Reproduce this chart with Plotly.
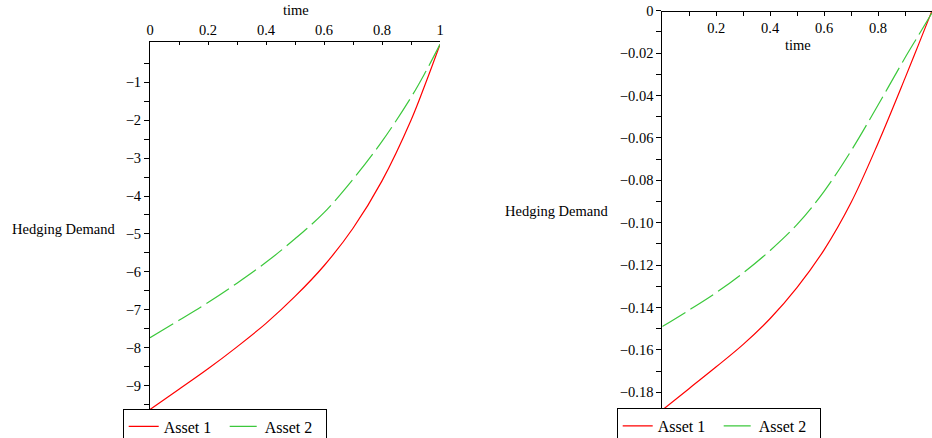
import plotly.graph_objects as go

# ---- data ----
time = [0.0, 0.1, 0.2, 0.3, 0.4, 0.5, 0.6, 0.7, 0.8, 0.9, 0.95, 1.0]

left_asset1 = [-9.63, -9.10, -8.56, -7.98, -7.36, -6.65, -5.84, -4.85, -3.60, -2.00, -1.03, 0.0]
left_asset2 = [-7.74, -7.28, -6.81, -6.30, -5.75, -5.13, -4.44, -3.56, -2.56, -1.40, -0.73, 0.0]

right_asset1 = [-0.1884, -0.1782, -0.1680, -0.1574, -0.1452, -0.1305, -0.1128, -0.0905,
                -0.0625, -0.0318, -0.0160, 0.0]
right_asset2 = [-0.149, -0.1412, -0.1330, -0.1237, -0.1131, -0.1008, -0.0852, -0.0661,
                -0.0445, -0.0222, -0.0116, -0.001]

series_names = ["Asset 1", "Asset 2"]

x_tick_vals_left = [0, 0.2, 0.4, 0.6, 0.8, 1.0]
x_tick_text_left = ["0", "0.2", "0.4", "0.6", "0.8", "1"]
x_tick_vals_right = [0.2, 0.4, 0.6, 0.8]
x_tick_text_right = ["0.2", "0.4", "0.6", "0.8"]
x_minor = [0.1, 0.3, 0.5, 0.7, 0.9]

y_tick_vals_left = [-1, -2, -3, -4, -5, -6, -7, -8, -9]
y_tick_text_left = ["\u22121", "\u22122", "\u22123", "\u22124", "\u22125",
                    "\u22126", "\u22127", "\u22128", "\u22129"]
y_minor_left = [-0.5, -1.5, -2.5, -3.5, -4.5, -5.5, -6.5, -7.5, -8.5, -9.5]

y_tick_vals_right = [0, -0.02, -0.04, -0.06, -0.08, -0.10, -0.12, -0.14, -0.16, -0.18]
y_tick_text_right = ["0", "\u22120.02", "\u22120.04", "\u22120.06", "\u22120.08",
                     "\u22120.10", "\u22120.12", "\u22120.14", "\u22120.16", "\u22120.18"]
y_minor_right = [-0.01, -0.03, -0.05, -0.07, -0.09, -0.11, -0.13, -0.15, -0.17]

# ---- styling ----
W, H = 932, 438
RED = "#ff0000"
GREEN = "#3cc83c"
DASH = "27px,6px"
FONT = "Liberation Serif"

def px_x(p):
    return p / W

def px_y(p):
    return 1 - p / H

fig = go.Figure()

fig.add_trace(go.Scatter(x=time, y=left_asset1, name=series_names[0], mode="lines",
                         line=dict(color=RED, width=1.2, shape="spline"),
                         xaxis="x", yaxis="y", legend="legend"))
fig.add_trace(go.Scatter(x=time, y=left_asset2, name=series_names[1], mode="lines",
                         line=dict(color=GREEN, width=1.2, dash=DASH, shape="spline"),
                         xaxis="x", yaxis="y", legend="legend"))
fig.add_trace(go.Scatter(x=time, y=right_asset1, name=series_names[0], mode="lines",
                         line=dict(color=RED, width=1.2, shape="spline"),
                         xaxis="x2", yaxis="y2", legend="legend2"))
fig.add_trace(go.Scatter(x=time, y=right_asset2, name=series_names[1], mode="lines",
                         line=dict(color=GREEN, width=1.2, dash=DASH, shape="spline"),
                         xaxis="x2", yaxis="y2", legend="legend2"))

axis_common = dict(showline=True, linecolor="black", linewidth=1, showgrid=False,
                   zeroline=False, tickcolor="black", tickwidth=1, automargin=False,
                   tickfont=dict(family=FONT, size=14.5, color="black"))

legend_common = dict(orientation="h", bgcolor="white", bordercolor="black", borderwidth=1,
                     font=dict(family=FONT, size=16, color="black"),
                     xanchor="left", yanchor="top", itemwidth=30,
                     entrywidth=56, entrywidthmode="pixels")

fig.update_layout(
    width=W, height=H,
    margin=dict(l=0, r=0, t=0, b=0, pad=0, autoexpand=False),
    paper_bgcolor="white", plot_bgcolor="white",
    font=dict(family=FONT, size=14.5, color="black"),
    xaxis=dict(domain=[px_x(150), px_x(440)], range=[0, 1], side="top", anchor="y",
               ticks="inside", ticklen=3, tickmode="array",
               tickvals=x_tick_vals_left, ticktext=x_tick_text_left,
               minor=dict(tickmode="array", tickvals=x_minor, ticks="inside", ticklen=3,
                          tickcolor="black"),
               **axis_common),
    yaxis=dict(domain=[px_y(409.5), px_y(41.7)], range=[-9.633, 0.071], anchor="x",
               ticks="outside", ticklen=5, tickmode="array",
               tickvals=y_tick_vals_left, ticktext=y_tick_text_left,
               minor=dict(tickmode="array", tickvals=y_minor_left, ticks="outside",
                          ticklen=5, tickcolor="black"),
               **axis_common),
    xaxis2=dict(domain=[px_x(662.3), 1.0], range=[0, 1], side="bottom", anchor="free",
                position=px_y(10.7),
                ticks="outside", ticklen=4, tickmode="array",
                tickvals=x_tick_vals_right, ticktext=x_tick_text_right,
                minor=dict(tickmode="array", tickvals=x_minor, ticks="outside", ticklen=4,
                           tickcolor="black"),
                **axis_common),
    yaxis2=dict(domain=[px_y(410.7), px_y(10.7)], range=[-0.1887, 0], anchor="x2",
                ticks="outside", ticklen=5, tickmode="array",
                tickvals=y_tick_vals_right, ticktext=y_tick_text_right,
                minor=dict(tickmode="array", tickvals=y_minor_right, ticks="outside",
                           ticklen=5, tickcolor="black"),
                **axis_common),
    legend=dict(x=px_x(122.7), y=px_y(408.5), **legend_common),
    legend2=dict(x=px_x(616.7), y=px_y(408.0), **legend_common),
    showlegend=True,
)

ann_font = dict(family=FONT, size=14.5, color="black")
fig.add_annotation(text="Hedging Demand", xref="paper", yref="paper",
                   x=px_x(10), y=px_y(229), xanchor="left", yanchor="middle",
                   showarrow=False, font=ann_font)
fig.add_annotation(text="Hedging Demand", xref="paper", yref="paper",
                   x=px_x(503), y=px_y(211), xanchor="left", yanchor="middle",
                   showarrow=False, font=ann_font)
fig.add_annotation(text="time", xref="paper", yref="paper",
                   x=px_x(295.5), y=px_y(10.5), xanchor="center", yanchor="middle",
                   showarrow=False, font=ann_font)
fig.add_annotation(text="time", xref="paper", yref="paper",
                   x=px_x(797.5), y=px_y(45), xanchor="center", yanchor="middle",
                   showarrow=False, font=ann_font)

fig.write_html("out.html", config={"displayModeBar": False},
               post_script="document.body.style.margin='0px';")
